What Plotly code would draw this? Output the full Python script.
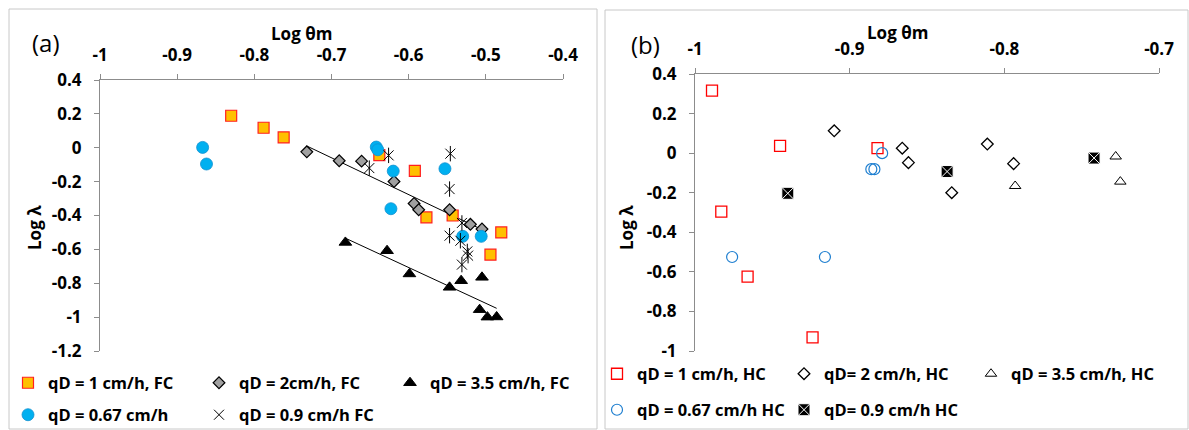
import numpy as np
import plotly.graph_objects as go

W, H = 1189, 430

# ---------------- Panel (a) data ----------------
sq_a_x = [-0.830, -0.788, -0.762, -0.638, -0.592, -0.577, -0.543, -0.480, -0.494]
sq_a_y = [0.189, 0.118, 0.061, -0.043, -0.136, -0.411, -0.400, -0.500, -0.631]
dm_a_x = [-0.732, -0.690, -0.661, -0.619, -0.593, -0.587, -0.547, -0.520, -0.505]
dm_a_y = [-0.024, -0.077, -0.079, -0.199, -0.329, -0.366, -0.366, -0.452, -0.480]
tr_a_x = [-0.682, -0.628, -0.599, -0.547, -0.532, -0.505, -0.508, -0.498, -0.486]
tr_a_y = [-0.559, -0.608, -0.745, -0.824, -0.785, -0.765, -0.956, -1.000, -0.999]
ci_a_x = [-0.867, -0.862, -0.642, -0.640, -0.620, -0.553, -0.623, -0.530, -0.506]
ci_a_y = [0.002, -0.096, 0.004, -0.012, -0.138, -0.124, -0.360, -0.523, -0.523]
as_a_x = [-0.651, -0.626, -0.546, -0.547, -0.531, -0.547, -0.533, -0.524, -0.523, -0.531]
as_a_y = [-0.120, -0.045, -0.035, -0.244, -0.444, -0.519, -0.549, -0.612, -0.637, -0.690]

# ---------------- Panel (b) data ----------------
sq_b_x = [-0.989, -0.983, -0.966, -0.945, -0.924, -0.882]
sq_b_y = [0.316, -0.296, -0.624, 0.037, -0.931, 0.025]
dm_b_x = [-0.910, -0.866, -0.862, -0.834, -0.811, -0.794]
dm_b_y = [0.113, 0.025, -0.048, -0.200, 0.046, -0.053]
tr_b_x = [-0.793, -0.728, -0.725]
tr_b_y = [-0.166, -0.017, -0.144]
ci_b_x = [-0.976, -0.916, -0.886, -0.884, -0.879]
ci_b_y = [-0.525, -0.525, -0.081, -0.081, 0.000]
bx_b_x = [-0.940, -0.837, -0.742]
bx_b_y = [-0.203, -0.093, -0.025]

# ---------------- ticks ----------------
xa_vals = [-1, -0.9, -0.8, -0.7, -0.6, -0.5, -0.4]
xa_text = ["-1", "-0.9", "-0.8", "-0.7", "-0.6", "-0.5", "-0.4"]
ya_vals = [0.4, 0.2, 0, -0.2, -0.4, -0.6, -0.8, -1, -1.2]
ya_text = ["0.4", "0.2", "0", "-0.2", "-0.4", "-0.6", "-0.8", "-1", "-1.2"]
xb_vals = [-1, -0.9, -0.8, -0.7]
xb_text = ["-1", "-0.9", "-0.8", "-0.7"]
yb_vals = [0.4, 0.2, 0, -0.2, -0.4, -0.6, -0.8, -1]
yb_text = ["0.4", "0.2", "0", "-0.2", "-0.4", "-0.6", "-0.8", "-1"]

FONT = "Open Sans"
BOLD = dict(family=FONT, size=17, color="black", weight="bold")


def px_x(p):
    return p / W


def px_y(p):
    return 1 - p / H


fig = go.Figure()

# trendlines (linear fits)
for xs, ys in [(dm_a_x, dm_a_y), (tr_a_x, tr_a_y)]:
    k, b = np.polyfit(xs, ys, 1)
    xl = np.array([min(xs), max(xs)])
    fig.add_trace(go.Scatter(x=xl, y=k * xl + b, mode="lines", line=dict(color="black", width=1),
                             showlegend=False, hoverinfo="skip", xaxis="x", yaxis="y"))

# panel (a) series
fig.add_trace(go.Scatter(x=sq_a_x, y=sq_a_y, mode="markers", name="qD = 1 cm/h, FC", legend="legend",
                         marker=dict(symbol="square", size=11, color="#FFC000", line=dict(color="#FF2020", width=1.2)),
                         xaxis="x", yaxis="y"))
fig.add_trace(go.Scatter(x=dm_a_x, y=dm_a_y, mode="markers", name="qD = 2cm/h, FC", legend="legend",
                         marker=dict(symbol="diamond", size=9, color="#A0A0A0", line=dict(color="black", width=1.2)),
                         xaxis="x", yaxis="y"))
fig.add_trace(go.Scatter(x=tr_a_x, y=tr_a_y, mode="markers", name="qD = 3.5 cm/h, FC", legend="legend",
                         marker=dict(symbol="triangle-up", size=11, color="black", line=dict(color="black", width=1)),
                         xaxis="x", yaxis="y"))
fig.add_trace(go.Scatter(x=ci_a_x, y=ci_a_y, mode="markers", name="qD = 0.67 cm/h", legend="legend2",
                         marker=dict(symbol="circle", size=12, color="#00B0F0", line=dict(color="#1090D0", width=0.8)),
                         xaxis="x", yaxis="y"))
fig.add_trace(go.Scatter(x=as_a_x, y=as_a_y, mode="markers", name="qD = 0.9 cm/h FC", legend="legend2",
                         marker=dict(symbol="x-thin-open", size=10, color="black", line=dict(color="black", width=1)),
                         xaxis="x", yaxis="y"))
fig.add_trace(go.Scatter(x=as_a_x, y=as_a_y, mode="markers", showlegend=False, legend="legend2",
                         marker=dict(symbol="line-ns-open", size=11, color="black", line=dict(color="black", width=1)),
                         hoverinfo="skip", xaxis="x", yaxis="y"))

# panel (b) series
fig.add_trace(go.Scatter(x=sq_b_x, y=sq_b_y, mode="markers", name="qD = 1 cm/h, HC", legend="legend3",
                         marker=dict(symbol="square-open", size=11, color="#FF0000", line=dict(width=1.3)),
                         xaxis="x2", yaxis="y2"))
fig.add_trace(go.Scatter(x=dm_b_x, y=dm_b_y, mode="markers", name="qD= 2 cm/h, HC", legend="legend3",
                         marker=dict(symbol="diamond-open", size=9, color="black", line=dict(width=1.3)),
                         xaxis="x2", yaxis="y2"))
fig.add_trace(go.Scatter(x=tr_b_x, y=tr_b_y, mode="markers", name="qD = 3.5 cm/h, HC", legend="legend3",
                         marker=dict(symbol="triangle-up-open", size=10, color="black", line=dict(width=1)),
                         xaxis="x2", yaxis="y2"))
fig.add_trace(go.Scatter(x=ci_b_x, y=ci_b_y, mode="markers", name="qD = 0.67 cm/h HC", legend="legend4",
                         marker=dict(symbol="circle-open", size=11, color="#1F7FD0", line=dict(width=1.2)),
                         xaxis="x2", yaxis="y2"))
fig.add_trace(go.Scatter(x=bx_b_x, y=bx_b_y, mode="markers", name="qD= 0.9 cm/h HC", legend="legend4",
                         marker=dict(symbol="square-x", size=12, color="black", line=dict(color="white", width=1)),
                         xaxis="x2", yaxis="y2"))

axis_common = dict(showgrid=False, zeroline=False, showline=True, linecolor="#8C8C8C", linewidth=1,
                   ticks="outside", ticklen=5, tickcolor="#8C8C8C", tickfont=BOLD, tickmode="array")

leg_common = dict(orientation="h", xref="container", yref="container", xanchor="left", yanchor="middle",
                  font=dict(family=FONT, size=16.5, color="black", weight="bold"), bgcolor="rgba(0,0,0,0)",
                  entrywidthmode="pixels", traceorder="normal", itemclick=False, itemdoubleclick=False)

fig.update_layout(
    width=W, height=H, margin=dict(l=0, r=0, t=0, b=0, autoexpand=False),
    paper_bgcolor="white", plot_bgcolor="white",
    xaxis=dict(axis_common, domain=[px_x(100), px_x(563)], range=[-1, -0.4], side="top", anchor="y",
               tickvals=xa_vals, ticktext=xa_text, ticklabelstandoff=6),
    yaxis=dict(axis_common, domain=[px_y(351), px_y(80)], range=[-1.2, 0.4], anchor="x",
               tickvals=ya_vals, ticktext=ya_text, ticklabelstandoff=9),
    xaxis2=dict(axis_common, domain=[px_x(695), px_x(1159)], range=[-1, -0.7], side="top", anchor="y2",
                tickvals=xb_vals, ticktext=xb_text, ticklabelstandoff=6),
    yaxis2=dict(axis_common, domain=[px_y(351), px_y(74)], range=[-1, 0.4], anchor="x2",
                tickvals=yb_vals, ticktext=yb_text, ticklabelstandoff=9),
    legend=dict(leg_common, x=px_x(8), y=1 - 383 / H, entrywidth=146),
    legend2=dict(leg_common, x=px_x(8), y=1 - 415 / H, entrywidth=146),
    legend3=dict(leg_common, x=px_x(597), y=1 - 374 / H, entrywidth=142),
    legend4=dict(leg_common, x=px_x(597), y=1 - 410 / H, entrywidth=142),
    showlegend=True,
)

# panel borders
for x0, x1, y0, y1 in [(9, 597, 9, 429), (605, 1188, 10, 429)]:
    fig.add_shape(type="rect", xref="paper", yref="paper", x0=px_x(x0), x1=px_x(x1), y0=px_y(y1), y1=px_y(y0),
                  line=dict(color="#C8C8C8", width=1), fillcolor="rgba(0,0,0,0)", layer="below")

# titles / labels
ann = [
    ("(a)", 46, 42, dict(family=FONT, size=24, color="black"), 0),
    ("(b)", 645, 44, dict(family=FONT, size=24, color="black"), 0),
    ("Log θm", 301, 34, dict(family=FONT, size=17, color="black", weight="bold"), 0),
    ("Log θm", 897, 32, dict(family=FONT, size=17, color="black", weight="bold"), 0),
    ("Log λ", 35, 228, dict(family=FONT, size=17, color="black", weight="bold"), -90),
    ("Log λ", 627, 228, dict(family=FONT, size=17, color="black", weight="bold"), -90),
]
for t, x, y, f, a in ann:
    fig.add_annotation(text=t, x=px_x(x), y=px_y(y), xref="paper", yref="paper", showarrow=False,
                       font=f, textangle=a, xanchor="center", yanchor="middle")

fig.write_html("out.html", config={"displayModeBar": False},
               post_script="document.body.style.margin='0px';")
